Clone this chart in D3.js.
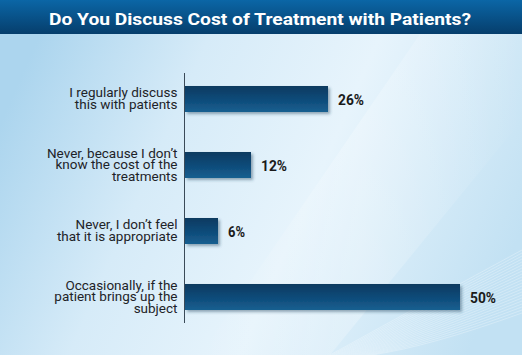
<!DOCTYPE html>
<html><head><meta charset="utf-8">
<script src="https://cdn.jsdelivr.net/npm/d3@7"></script>
<style>
html,body{margin:0;padding:0;overflow:hidden;}
svg{display:block;}
</style></head>
<body>
<svg id="chart" width="522" height="355"></svg>
<script>
const title = "Do You Discuss Cost of  Treatment with Patients?";
const categories = [
  ["I regularly discuss", "this with patients"],
  ["Never, because I don\u2019t", "know the cost of the", "treatments"],
  ["Never, I don\u2019t feel", "that it is appropriate"],
  ["Occasionally, if the", "patient brings up the", "subject"]
];
const values = [26, 12, 6, 50];
const valueLabels = ["26%", "12%", "6%", "50%"];

const W = 522, H = 355;
const svg = d3.select("#chart");
const defs = svg.append("defs");

// background gradient
const bg = defs.append("linearGradient").attr("id","bg").attr("x1","0").attr("y1","0.35").attr("x2","1").attr("y2","0.65");
bg.append("stop").attr("offset","0").attr("stop-color","#acd5ee");
bg.append("stop").attr("offset","0.3").attr("stop-color","#d6ebf8");
bg.append("stop").attr("offset","0.6").attr("stop-color","#e7f4fc");
bg.append("stop").attr("offset","1").attr("stop-color","#c2e1f3");
svg.append("rect").attr("width",W).attr("height",H).attr("fill","url(#bg)");

// subtle diagonal light band
const band = defs.append("linearGradient").attr("id","band").attr("x1","0").attr("y1","0").attr("x2","1").attr("y2","0");
band.append("stop").attr("offset","0").attr("stop-color","#ffffff").attr("stop-opacity",0);
band.append("stop").attr("offset","0.5").attr("stop-color","#ffffff").attr("stop-opacity",0.25);
band.append("stop").attr("offset","1").attr("stop-color","#ffffff").attr("stop-opacity",0);
svg.append("path").attr("d","M200,355 L420,34 L522,34 L522,120 L330,355 Z").attr("fill","url(#band)");

// wave lines bottom right
const waves = svg.append("g").attr("opacity",0.35);
for (let i = 0; i < 22; i++) {
  waves.append("path")
    .attr("d", `M${330 + i*2},${355} Q${430},${300 + i*2.2} ${522},${250 + i*3}`)
    .attr("fill","none").attr("stroke","#ffffff").attr("stroke-width",0.8);
}

// title band
const tg = defs.append("linearGradient").attr("id","tg").attr("x1","0").attr("y1","0").attr("x2","0").attr("y2","1");
tg.append("stop").attr("offset","0").attr("stop-color","#0b66a6");
tg.append("stop").attr("offset","1").attr("stop-color","#063e6c");
svg.append("rect").attr("width",W).attr("height",34).attr("fill","url(#tg)");
svg.append("text").attr("x",49).attr("y",25)
  .attr("fill","#ffffff").attr("font-family","Roboto,'Liberation Sans',sans-serif")
  .attr("font-weight","bold").attr("font-size",17).attr("textLength",422).attr("lengthAdjust","spacingAndGlyphs")
  .text(title);

// scales
const x = d3.scaleLinear().domain([0, 50]).range([185, 460]);
const y = d3.scaleBand().domain(d3.range(values.length)).range([86, 310]).paddingInner(40/66).paddingOuter(0);

// bar gradient
const bgBar = defs.append("linearGradient").attr("id","bar").attr("x1","0").attr("y1","0").attr("x2","0").attr("y2","1");
bgBar.append("stop").attr("offset","0").attr("stop-color","#0c3a60");
bgBar.append("stop").attr("offset","0.5").attr("stop-color","#0f4a78");
bgBar.append("stop").attr("offset","1").attr("stop-color","#165f90");
const sh = defs.append("filter").attr("id","sh").attr("x","-10%").attr("y","-20%").attr("width","130%").attr("height","160%");
sh.append("feDropShadow").attr("dx",2).attr("dy",2).attr("stdDeviation",1.5).attr("flood-color","#24445e").attr("flood-opacity",0.45);

svg.append("g").selectAll("rect").data(values).join("rect")
  .attr("x", x(0)).attr("y",(d,i)=>y(i)).attr("width",d=>x(d)-x(0)).attr("height",y.bandwidth())
  .attr("fill","url(#bar)").attr("filter","url(#sh)");

// axis line
svg.append("line").attr("x1",184.5).attr("x2",184.5).attr("y1",73).attr("y2",323)
  .attr("stroke","#3a4a58").attr("stroke-width",1);

// value labels
svg.append("g").selectAll("text").data(values).join("text")
  .attr("x", d=>x(d)+10).attr("y",(d,i)=>y(i)+y.bandwidth()/2+6)
  .attr("font-family","Roboto,'Liberation Sans',sans-serif")
  .attr("font-weight","bold").attr("font-size",15).attr("fill","#1a1a1a")
  .attr("textLength",(d,i)=>valueLabels[i].length===3?26:17).attr("lengthAdjust","spacingAndGlyphs")
  .text((d,i)=>valueLabels[i]);

// category labels
const lh = 11.5;
svg.append("g").selectAll("text").data(categories).join("text")
  .attr("text-anchor","end")
  .attr("font-family","Roboto,'Liberation Sans',sans-serif")
  .attr("font-size",13.5).attr("fill","#1e2328")
  .each(function(lines,i){
    const cy = y(i)+y.bandwidth()/2;
    const start = cy - (lines.length-1)*lh/2 + 4;
    d3.select(this).selectAll("tspan").data(lines).join("tspan")
      .attr("x",177.5).attr("y",(l,j)=>start + j*lh).text(l=>l);
  });
</script>
</body></html>
